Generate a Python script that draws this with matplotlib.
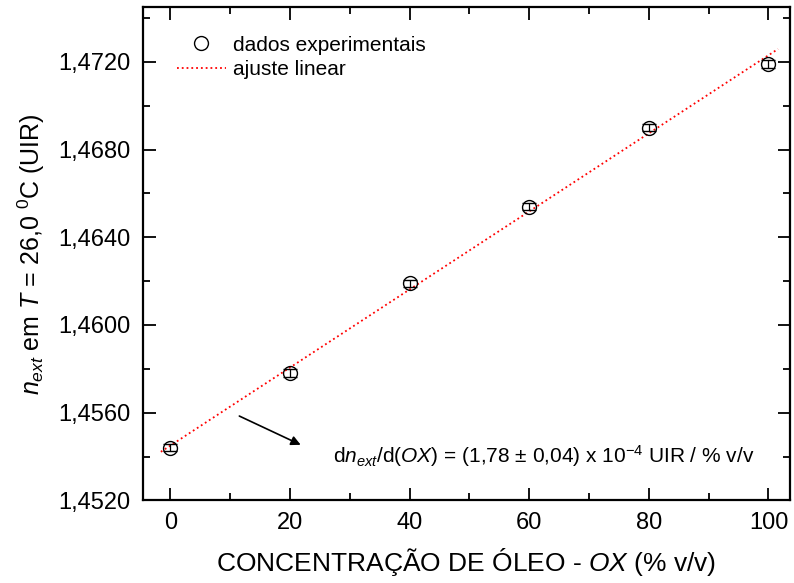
import numpy as np
from matplotlib import pyplot as plt
from matplotlib.lines import Line2D
from matplotlib.ticker import MultipleLocator, FuncFormatter

# concentracao de oleo (% v/v) e indice de refracao medido
conc = [0, 20, 40, 60, 80, 100]
n_ext = [1.4544, 1.4578, 1.4619, 1.4654, 1.4690, 1.4719]
n_err = [0.00017, 0.00017, 0.00017, 0.00017, 0.00017, 0.00017]
fit_range = [-1.6, 101.6]

plt.rcParams['font.family'] = ['Liberation Sans', 'DejaVu Sans']
plt.rcParams['mathtext.fontset'] = 'custom'
plt.rcParams['mathtext.rm'] = 'Liberation Sans'
plt.rcParams['mathtext.it'] = 'Liberation Sans:italic'

fig = plt.figure(figsize=(7.94, 5.83), dpi=100)
ax = fig.add_axes([0.180, 0.1417, 0.815, 0.8463])

slope, icpt = np.polyfit(conc, n_ext, 1)
xf = np.array(fit_range)
ax.plot(xf, icpt + slope*xf, ls=':', color='red', lw=1.3, zorder=1)
ax.errorbar(conc, n_ext, yerr=n_err, fmt='o', mfc='none', mec='black', ecolor='black',
	ms=10, mew=1.0, elinewidth=0.9, capsize=5, capthick=0.9, zorder=3)

ax.set_xlim(-4.6, 103.6)
ax.set_ylim(1.4520, 1.4745)
ax.xaxis.set_major_locator(MultipleLocator(20))
ax.xaxis.set_minor_locator(MultipleLocator(10))
ax.yaxis.set_major_locator(MultipleLocator(0.004))
ax.yaxis.set_minor_locator(MultipleLocator(0.002))
ax.yaxis.set_major_formatter(FuncFormatter(lambda v, p: ("%.4f" % v).replace('.', ',')))
ax.tick_params(which='both', direction='in', top=True, right=True, width=1.3, labelsize=17)
ax.tick_params(which='major', length=9)
ax.tick_params(which='minor', length=5)
ax.tick_params(axis='x', pad=8)
ax.tick_params(axis='y', pad=9)
for s in ax.spines.values():
	s.set_linewidth(1.6)

ax.set_xlabel(r"CONCENTRAÇÃO DE ÓLEO - $OX$ (% v/v)", fontsize=19, labelpad=9)
ax.set_ylabel(r"$n_{ext}$ em $T$ = 26,0 $^{0}$C (UIR)", fontsize=18, labelpad=8)

handles = [Line2D([], [], ls='none', marker='o', mfc='none', mec='black', ms=10, mew=1.0),
	Line2D([], [], ls=':', color='red', lw=1.3)]
ax.legend(handles, ['dados experimentais', 'ajuste linear'], loc='upper left',
	bbox_to_anchor=(0.0526, 0.942), frameon=False, fontsize=15, handlelength=2.35,
	handletextpad=0.33, labelspacing=0.25, borderpad=0, borderaxespad=0)

ax.annotate("", xy=(22.2, 1.45448), xytext=(11.1, 1.45590),
	arrowprops=dict(arrowstyle='-|>', color='black', lw=1.2, mutation_scale=14))
ax.text(27.2, 1.45402, r"d$n_{ext}$/d($OX$) = (1,78 ± 0,04) x 10$^{-4}$ UIR / % v/v",
	fontsize=15, ha='left', va='center')

plt.savefig("out.png", dpi=100)
